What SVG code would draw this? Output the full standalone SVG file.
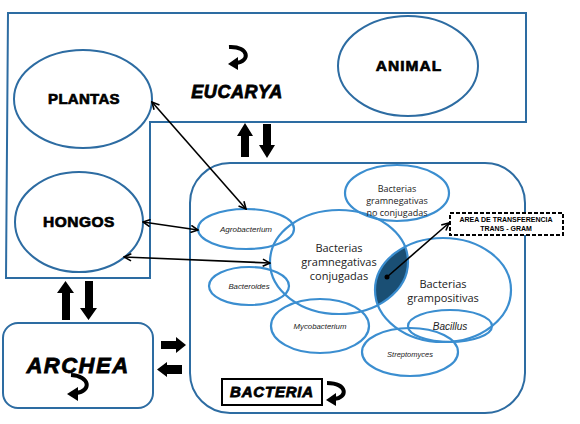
<svg xmlns="http://www.w3.org/2000/svg" width="580" height="424" viewBox="0 0 580 424">
<style>
.frame{fill:none;stroke:#2d6ca2;stroke-width:2}
.node{fill:#fff;stroke:#2d6ca2;stroke-width:2}
.inner{fill:none;stroke:#3b8ed0;stroke-width:2.2}
.big{font-family:"Liberation Sans",Arial,sans-serif;font-weight:bold;fill:#000;stroke:#000;stroke-width:0.7;text-anchor:middle}
.bi{font-family:"Liberation Sans",Arial,sans-serif;font-weight:bold;font-style:italic;fill:#000;stroke:#000;stroke-width:0.8;text-anchor:middle}
.tiny{font-family:"Liberation Sans",Arial,sans-serif;font-weight:bold;fill:#000;text-anchor:middle}
.sm{font-family:"Open Sans","Liberation Sans",sans-serif;fill:#222;text-anchor:middle}
.it{font-family:"Liberation Sans",Arial,sans-serif;font-style:italic;fill:#222;text-anchor:middle}
.conn{fill:none;stroke:#000;stroke-width:1.6}
.blk{fill:#000}
.curl{fill:none;stroke:#000;stroke-width:4}
</style>
<defs>
<marker id="ah" viewBox="0 0 10 10" refX="9" refY="5" markerWidth="9" markerHeight="9" orient="auto-start-reverse" markerUnits="userSpaceOnUse">
<path d="M1,1 L9,5 L1,9" fill="none" stroke="#000" stroke-width="1.8"/>
</marker>
<clipPath id="conjClip"><ellipse cx="339" cy="262" rx="69" ry="52"/></clipPath>
</defs>
<rect width="580" height="424" fill="#fff"/>

<g id="eucarya">
<polygon class="frame" points="8,13 526,13 526,122 150,122 150,278 6,278"/>
<text class="bi" x="237" y="98" font-size="18" letter-spacing="0.6">EUCARYA</text>
<path class="curl" d="M229,47 C250,46 250,62 236,63"/>
<polygon class="blk" points="238,57 228,64 238,70"/>
</g>

<g id="plantas">
<ellipse class="node" cx="83" cy="99" rx="69" ry="49"/>
<text class="big" x="84" y="104" font-size="15" letter-spacing="0.3">PLANTAS</text>
</g>
<g id="hongos">
<ellipse class="node" cx="79" cy="222" rx="64" ry="50"/>
<text class="big" x="79" y="227" font-size="15.5" letter-spacing="0.5">HONGOS</text>
</g>
<g id="animal">
<ellipse class="node" cx="408" cy="66" rx="70" ry="50"/>
<text class="big" x="409" y="71" font-size="15.5" letter-spacing="1">ANIMAL</text>
</g>

<g id="archea">
<rect class="frame" x="3" y="323" width="150" height="85" rx="15"/>
<text class="bi" x="78" y="373" font-size="22" letter-spacing="1.5">ARCHEA</text>
<path class="curl" d="M71,375 C90,376 92,391 76,393"/>
<polygon class="blk" points="78,387 67,394 78,401"/>
</g>

<g id="bacteria">
<rect class="frame" x="190" y="163" width="335" height="250" rx="40"/>
<rect x="222" y="379" width="100" height="26" fill="#fff" stroke="#000" stroke-width="2"/>
<text class="bi" x="272" y="397" font-size="15" letter-spacing="0.8">BACTERIA</text>
<path class="curl" d="M327,383 C348,383 348,398 334,399"/>
<polygon class="blk" points="336,393 326,400 336,406"/>
</g>

<g id="lens">
<ellipse cx="443" cy="290" rx="68" ry="52" fill="#1a4f74" clip-path="url(#conjClip)"/>
</g>

<g id="conjugadas">
<ellipse class="inner" cx="339" cy="262" rx="69" ry="52"/>
<text class="sm" x="339" y="252" font-size="11">Bacterias</text>
<text class="sm" x="339" y="266" font-size="11">gramnegativas</text>
<text class="sm" x="339" y="280" font-size="11">conjugadas</text>
</g>
<g id="noconjugadas">
<ellipse class="inner" cx="397" cy="193" rx="52" ry="28"/>
<text class="sm" x="397" y="192" font-size="9">Bacterias</text>
<text class="sm" x="397" y="204" font-size="9">gramnegativas</text>
<text class="sm" x="397" y="216" font-size="9">no conjugadas</text>
</g>
<g id="grampositivas">
<ellipse class="inner" cx="443" cy="290" rx="68" ry="52"/>
<text class="sm" x="443" y="288" font-size="11">Bacterias</text>
<text class="sm" x="443" y="302" font-size="11">grampositivas</text>
</g>
<g id="agrobacterium">
<ellipse class="inner" cx="246" cy="229" rx="48" ry="20"/>
<text class="it" x="246" y="232" font-size="8">Agrobacterium</text>
</g>
<g id="bacteroides">
<ellipse class="inner" cx="249" cy="286" rx="40" ry="19"/>
<text class="it" x="249" y="289" font-size="7.8">Bacteroides</text>
</g>
<g id="mycobacterium">
<ellipse class="inner" cx="320" cy="326" rx="49" ry="27"/>
<text class="it" x="320" y="329" font-size="7.8">Mycobacterium</text>
</g>
<g id="bacillus">
<ellipse class="inner" cx="450" cy="326" rx="42" ry="16"/>
<text class="it" x="450" y="330" font-size="10">Bacillus</text>
</g>
<g id="streptomyces">
<ellipse class="inner" cx="410" cy="352" rx="48" ry="24"/>
<text class="it" x="410" y="357" font-size="7.5">Streptomyces</text>
</g>

<g id="area">
<rect x="450" y="213" width="113" height="22" fill="#fff" stroke="#000" stroke-width="2" stroke-dasharray="4,2"/>
<text class="tiny" x="506" y="222" font-size="7">AREA DE TRANSFERENCIA</text>
<text class="tiny" x="506" y="231" font-size="7">TRANS - GRAM</text>
</g>

<g id="connectors">
<line class="conn" x1="152" y1="102" x2="246" y2="209" marker-start="url(#ah)" marker-end="url(#ah)"/>
<line class="conn" x1="143" y1="222" x2="198" y2="230" marker-start="url(#ah)" marker-end="url(#ah)"/>
<line class="conn" x1="124" y1="257" x2="270" y2="263" marker-start="url(#ah)" marker-end="url(#ah)"/>
<circle cx="387" cy="277" r="2.5" fill="#000"/>
<line class="conn" x1="387" y1="277" x2="449" y2="223" marker-end="url(#ah)"/>
<polygon class="blk" points="241,157 249,157 249,136 253,136 245,123 237,136 241,136"/>
<polygon class="blk" points="263,124 271,124 271,145 275,145 267,158 259,145 263,145"/>
<polygon class="blk" points="62,320 70,320 70,293 74,293 65.5,281 57,293 62,293"/>
<polygon class="blk" points="85,281 93,281 93,308 97,308 88.5,320 80,308 85,308"/>
<polygon class="blk" points="161,341 176,341 176,337 186,345 176,353 176,349 161,349"/>
<polygon class="blk" points="182,365 167,365 167,362 157,369.5 167,377 167,374 182,374"/>
</g>
</svg>
